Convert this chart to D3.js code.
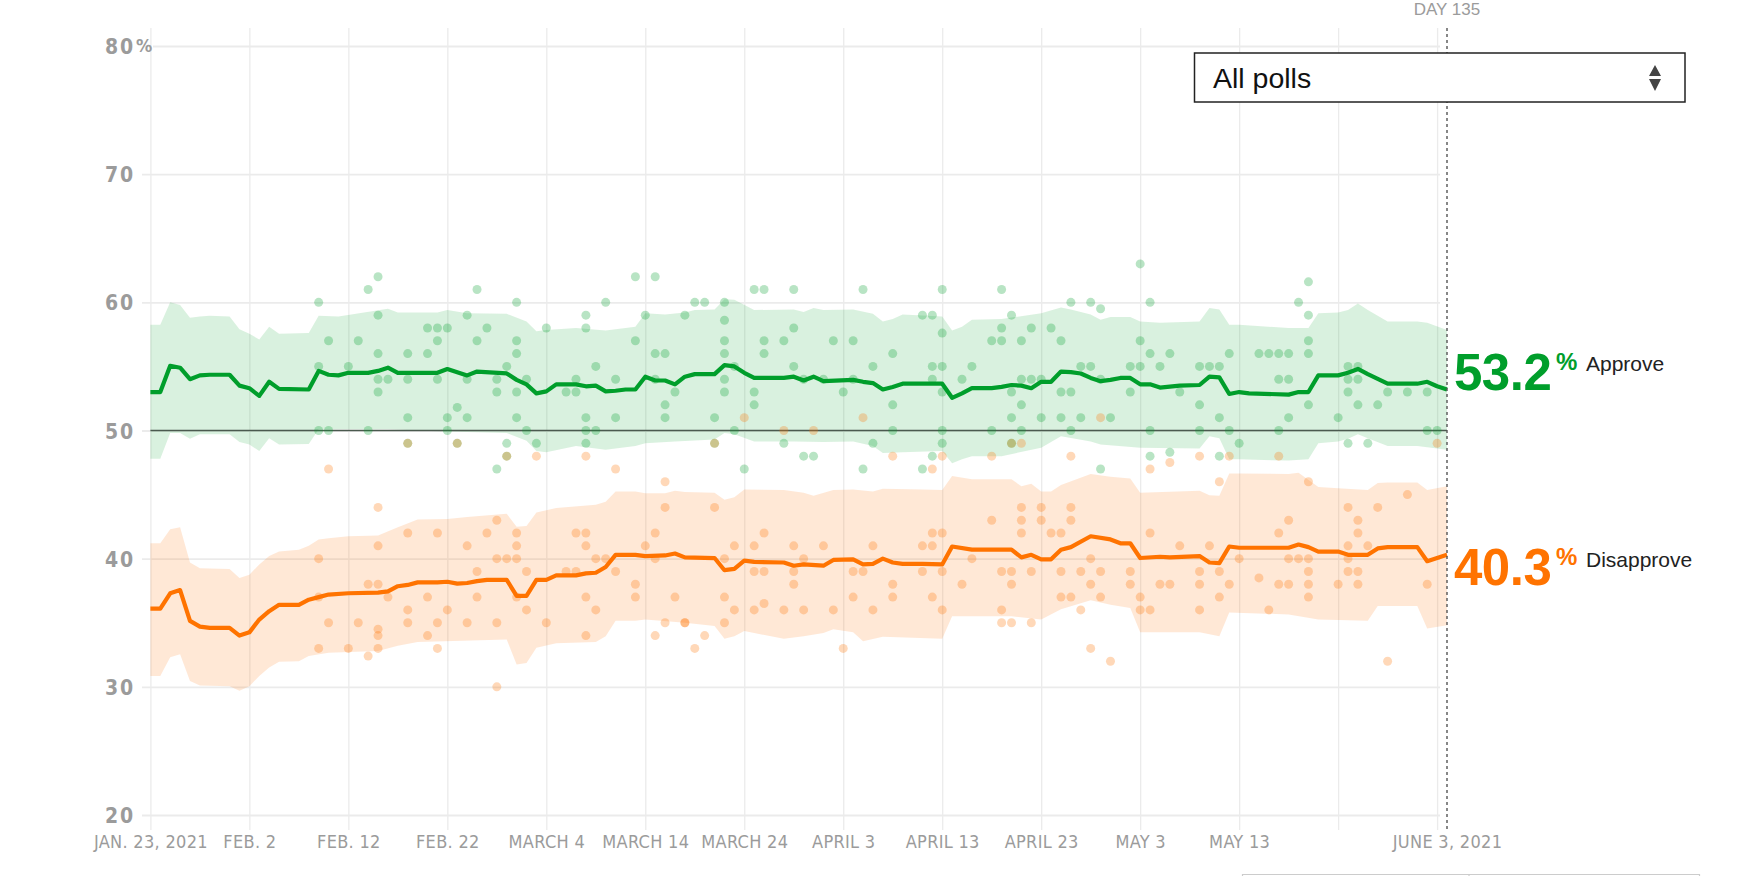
<!DOCTYPE html>
<html>
<head>
<meta charset="utf-8">
<script src="https://cdn.jsdelivr.net/npm/d3@7"></script>
<style>
  html, body { margin: 0; padding: 0; background: #fff; }
  svg { display: block; }
  .cond { font-family: "Liberation Sans Narrow", "Arial Narrow", "DejaVu Sans Condensed", sans-serif; }
  .sans { font-family: "Liberation Sans", Arial, Helvetica, sans-serif; }
</style>
</head>
<body>
<svg id="chart" width="1748" height="876"></svg>
<script>
// ---------------- DATA ----------------
// days are counted from Jan. 23, 2021
const startDate = "2021-01-23";
const endDay = 131; // June 3, 2021 (Day 135 of the presidency)

const approveDays = [0,1,2,3,4,5,6,8,9,10,11,12,13,16,17,18,19,20,22,23,24,25,29,30,31,32,33,36,37,38,39,40,41,43,44,45,46,47,48,49,50,51,52,53,54,55,57,58,59,60,61,64,65,66,67,68,71,72,73,74,75,76,80,81,82,83,85,86,87,88,89,90,91,92,93,94,95,96,97,98,99,100,101,102,104,106,107,108,109,110,111,115,116,117,118,120,121,122,123,125,128,129,130,131];
const approveVals = [53.0,53.0,55.05,54.9,54.0,54.3,54.35,54.35,53.5,53.3,52.7,53.8,53.25,53.2,54.65,54.35,54.3,54.5,54.5,54.65,54.9,54.5,54.5,54.8,54.55,54.3,54.6,54.45,53.95,53.6,52.9,53.05,53.6,53.6,53.45,53.5,53.05,53.1,53.2,53.2,54.2,53.9,53.9,53.6,54.2,54.4,54.4,55.1,55.0,54.5,54.1,54.1,54.2,53.9,54.2,53.85,53.95,53.8,53.7,53.2,53.4,53.65,53.65,52.55,52.9,53.3,53.3,53.4,53.55,53.5,53.3,53.8,53.8,54.6,54.55,54.45,54.1,53.85,53.95,54.1,54.1,53.6,53.6,53.35,53.5,53.55,54.2,54.15,52.85,53.0,52.9,52.8,53.0,53.0,54.3,54.3,54.5,54.8,54.4,53.65,53.65,53.8,53.45,53.2];

const disapproveDays = [0,1,2,3,4,5,6,8,9,10,11,12,13,15,16,17,18,20,23,24,25,26,27,29,30,31,32,33,34,36,37,38,39,40,41,43,44,45,46,47,49,50,52,53,54,57,58,59,60,61,64,65,66,68,69,71,72,73,74,75,76,78,80,81,83,87,88,89,90,91,92,93,95,97,98,99,100,102,103,106,107,108,109,110,115,116,117,118,120,121,123,124,125,128,129,131];
const disapproveVals = [36.1,36.1,37.3,37.55,35.15,34.7,34.6,34.6,34.0,34.25,35.25,35.9,36.4,36.4,36.8,37.0,37.2,37.3,37.35,37.45,37.85,37.95,38.15,38.15,38.2,38.05,38.1,38.25,38.35,38.35,37.1,37.1,38.35,38.35,38.7,38.7,38.85,38.9,39.35,40.3,40.3,40.2,40.25,40.4,40.1,40.05,39.1,39.2,39.85,39.75,39.7,39.45,39.55,39.45,39.9,39.95,39.55,39.6,40.0,39.7,39.6,39.6,39.55,40.95,40.7,40.7,40.1,40.3,39.95,39.95,40.7,40.9,41.75,41.5,41.2,41.2,40.05,40.15,40.1,40.2,39.7,39.65,40.95,40.85,40.85,41.1,40.9,40.55,40.55,40.3,40.3,40.8,40.9,40.9,39.8,40.3];

// uncertainty bands
const approveHiDays = [0,1,2,3,4,5,6,8,9,10,11,12,13,16,17,19,24,25,29,30,32,36,38,39,40,43,46,49,50,52,54,55,57,58,59,61,65,66,67,68,71,73,74,75,76,80,81,82,83,86,90,92,93,95,96,97,99,100,102,106,107,108,109,110,115,117,118,120,121,122,123,125,128,129,131];
const approveHiVals = [58.25,58.25,60.0,59.8,58.8,58.9,58.95,58.9,57.9,57.55,57.1,58.1,57.55,57.6,58.95,58.9,59.5,59.2,59.2,59.4,59.15,59.1,58.5,57.75,57.85,58.0,57.8,58.1,59.15,59.05,59.2,59.4,59.45,60.25,60.2,59.4,59.45,59.25,59.55,59.4,59.45,59.1,58.5,58.7,59.05,58.9,57.8,58.1,58.65,58.7,59.15,59.6,59.45,59.05,58.65,58.85,58.85,58.5,58.4,58.5,59.55,59.45,58.25,58.25,58.0,58.0,59.15,59.2,59.4,59.9,59.4,58.5,58.5,58.4,57.85];
const approveLoDays = [0,1,2,3,4,5,8,9,10,11,12,13,16,17,24,29,36,38,39,40,43,46,49,50,53,57,58,59,61,65,68,71,73,74,76,80,81,82,83,86,90,92,95,96,100,106,107,108,109,110,115,117,118,120,121,122,123,125,128,131];
const approveLoVals = [47.8,47.8,49.8,49.8,49.35,49.7,49.7,49.1,48.9,48.4,49.4,48.9,48.95,50.1,50.1,49.95,49.8,49.2,48.4,48.3,48.8,48.5,48.8,49.0,49.15,49.3,49.8,49.7,49.15,49.15,49.1,49.15,48.8,48.25,48.3,48.4,47.45,47.75,48.0,48.0,48.65,49.55,49.15,48.9,48.65,48.6,49.55,49.4,47.75,47.75,47.65,47.75,49.0,49.15,49.35,49.7,49.4,48.8,48.8,48.5];
const disapproveHiDays = [0,1,2,3,4,5,8,9,10,11,12,13,15,16,17,18,20,23,25,27,30,32,36,37,38,39,41,45,46,47,49,50,52,53,54,57,58,59,60,64,66,67,69,71,73,74,78,80,81,83,87,88,89,90,91,92,95,97,99,100,106,107,108,109,110,115,116,118,120,123,124,125,128,129,131];
const disapproveHiVals = [41.2,41.2,42.3,42.45,39.7,39.25,39.2,38.5,38.75,39.55,40.2,40.55,40.7,41.0,41.5,41.6,41.75,41.8,42.45,43.05,43.1,43.25,43.5,42.5,42.55,43.6,43.95,44.2,44.45,45.25,45.25,45.1,45.1,45.3,45.2,45.15,44.6,44.8,45.4,45.35,45.15,44.9,45.35,45.4,45.25,45.45,45.4,45.35,46.45,46.2,46.2,45.65,45.85,45.25,45.25,45.75,46.6,46.4,46.25,45.15,45.3,44.95,44.9,46.65,46.65,46.6,46.7,45.6,45.5,45.35,45.9,45.95,45.95,45.35,45.65];
const disapproveLoDays = [0,1,2,3,4,5,8,9,10,11,12,13,15,16,18,23,25,27,36,37,38,39,41,45,46,47,49,50,54,57,58,59,60,64,66,68,69,71,72,74,80,81,87,90,92,95,97,99,100,106,108,109,115,118,123,124,128,129,131];
const disapproveLoVals = [30.85,30.85,32.3,32.55,30.45,30.1,30.05,29.7,30.05,30.85,31.5,31.95,32.0,32.4,32.65,32.8,33.2,33.5,33.7,31.75,31.85,33.05,33.4,33.5,33.95,35.15,35.15,35.25,35.0,34.75,33.75,33.95,34.35,33.75,33.95,34.2,34.5,34.25,33.55,33.9,33.75,35.5,35.5,35.25,36.05,36.75,36.4,36.15,34.25,34.25,33.95,35.8,35.65,35.25,35.15,36.3,36.3,34.55,34.8];

// individual polls
const approvePollDays = [17,18,17,17,18,20,21,22,23,23,23,23,24,23,22,26,26,26,26,28,29,30,29,28,29,30,30,31,31,32,32,32,33,33,34,35,35,35,36,36,36,37,37,37,37,37,38,38,39,40,42,43,43,44,44,44,44,44,45,45,46,47,47,49,49,50,51,51,52,51,52,52,53,54,
  55,56,58,58,58,58,58,58,59,57,59,57,60,61,62,62,62,61,61,64,65,65,65,66,64,66,67,68,69,71,70,71,72,72,73,73,75,75,75,78,79,79,80,79,80,80,80,80,80,79,78,82,83,85,86,86,86,87,87,88,88,88,87,88,85,87,89,89,90,90,91,92,92,93,92,93,93,94,95,94,95,96,96,97,96,100,101,100,101,103,99,100,102,99,104,101,101,103,106,107,108,106,108,106,109,109,108,110,
  112,113,114,115,114,115,115,114,116,117,117,117,117,117,120,121,122,121,122,121,122,124,121,123,125,127,129,129,130];
const approvePollVals = [60,57,55,50,50,55,57,61,62,59,56,54,54,53,50,56,54,51,49,58,58,58,57,56,54,51,50,51.8,49,59,54,51,61,57,58,54,53,47,55,49,48,60,57,56,53,51,54,50,49,58,53,54,53,59,58,51,50,49,55,50,60,54,51,62,57,59,62,56,56,54,52,51,53,59,
  60,60,60,58.6,57,56,54,53,55,51,50,49,47,61,61,57,56,53,52,57,61,58,55,54,49,48,48,54,57,57,53,54,61,47,55,49,56,52,50,59,59,55,55,54,61,57.6,53,50,49,48,47,54,55,57,57,61,58,59,53,57,54,52,51,50,50,49,58,54,54,51,58,57,53,53,51,60,50,55,55,51,60,59.5,54,51,47,63,60,57,56,56,55,55,55,53,53,50,48,48.3,55,55,55,52,51,50,56,50,48,49,
  56,56,56,56,54,54,51,50,60,61.6,59,57,56,52,51,55,55,54,54,53,52,52,49,49,53,53,53,50,50];

const disapprovePollDays = [18,39,44,47,52,23,17,23,26,29,34,35,37,37,32,35,36,37,38,33,22,23,24,17,28,33,37,26,30,38,18,21,23,23,26,29,32,35,40,28,17,20,23,29,22,35,43,44,44,42,43,45,46,47,44,45,44,49,49,50,51,51,52,53,52,54,51,
  26,31,36,57,87,
  60,64,67,72,75,79,80,85,88,93,96,101,103,106,109,108,
  57,59,61,65,68,62,58,61,62,65,66,65,58,62,59,61,64,66,69,73,54,58,56,55,70,73,71,72,71,75,75,78,79,79,80,78,80,79,80,82,83,85,86,87,87,86,86,87,89,88,90,93,88,90,93,88,89,91,92,92,94,96,92,93,94,95,95,96,95,97,99,99,100,100,101,101,102,103,104,106,106,106,107,108,108,109,110,112,113,114,115,114,115,115,116,117,117,117,117,117,120,121,121,121,121,122,122,122,122,123,124,127,125,129,130,114];
const disapprovePollVals = [47,48,48,47,46,44,40,41,42,42,42,43,42,41,41,40,40,40,39,39,38,38,37,37,37,37,37,36,36,36,35,35,34.5,34,35,35,35,35,35,34,33,33,33,33,32.4,30,42,42,41,39,39,40,40,39,37,36,34,38,37,41,42,40,44,37,35,35,34,
  49,49,48,49,49,
  51,50,50,51,48,47,48,48,49,48,51,47,47.5,48,48,46,
  44,41,41,41,41,42,40,39,39,39,40,38,37,36.5,36,36,36,36,36,36,35,35,34,33,33,41,39,39,37,38,37,41,41,42,42,39,39,37,36,38,40,43,39,39,38,36,35,35,35,44,44,44,43,43,43,42,39,42,42,39,39,39,37,37,36,40,38,37,33,32,39,38,37,36,36,42,38,38,41,39,38,36,41,39,37,38,40,38.5,36,38,38,42,43,40,40,40,39,38,37,46,38,44,41,40,39,39,43,42,38,41,44,45,32,38,49,48];

// axis ticks
const gridDays = [0,10,20,30,40,50,60,70,80,90,100,110,120,130];
const labelDays = [0,10,20,30,40,50,60,70,80,90,100,110,131];
const xTickLabels = ["JAN. 23, 2021","FEB. 2","FEB. 12","FEB. 22","MARCH 4","MARCH 14","MARCH 24","APRIL 3","APRIL 13","APRIL 23","MAY 3","MAY 13","JUNE 3, 2021"];
const yTicks = [20,30,40,50,60,70,80];
const yTickLabels = ["20","30","40","50","60","70","80"];

const approveLatest = 53.2, disapproveLatest = 40.3;

// ---------------- DRAWING ----------------
const GREEN = "#009e2b", ORANGE = "#ff7300";
const svg = d3.select("#chart");
const t0 = new Date(startDate + "T00:00:00Z");
const dayDate = d => d3.utcDay.offset(t0, d);

const x = d3.scaleUtc().domain([t0, dayDate(endDay)]).range([150.4, 1447]);
const y = d3.scaleLinear().domain([20, 80]).range([815, 46]);

// vertical grid
const gx = svg.append("g").attr("transform", "translate(0,830)")
  .call(d3.axisTop(x).tickValues(gridDays.map(dayDate)).tickSize(802).tickFormat(""));
gx.select(".domain").remove();
gx.selectAll("line").attr("stroke", "#ebebeb").attr("stroke-width", 1.3);

// horizontal grid
const gy = svg.append("g").attr("transform", "translate(1440,0)")
  .call(d3.axisLeft(y).tickValues(yTicks).tickSize(1298).tickFormat(""));
gy.select(".domain").remove();
gy.selectAll("line").attr("stroke", "#ebebeb").attr("stroke-width", 1.8)
  .attr("x2", d => d === 80 ? -(1440 - 153) : -1298);

// y labels
const ly = svg.append("g").attr("transform", "translate(135,0)")
  .call(d3.axisLeft(y).tickValues(yTicks).tickSize(0).tickPadding(0).tickFormat((d, i) => yTickLabels[i]));
ly.select(".domain").remove();
ly.selectAll("text").attr("class", "cond").attr("font-size", 21).attr("font-weight", "bold")
  .attr("letter-spacing", 1.8).attr("fill", "#9b9b9b").attr("dy", "0.36em");
svg.append("text").attr("class", "cond").attr("x", 136).attr("y", y(80)).attr("dy", "0.36em")
  .attr("font-size", 18).attr("font-weight", "bold").attr("fill", "#9b9b9b").text("%");

// x labels
const lx = svg.append("g").attr("transform", "translate(0,848)")
  .call(d3.axisBottom(x).tickValues(labelDays.map(dayDate)).tickSize(0).tickPadding(0)
    .tickFormat((d, i) => xTickLabels[i]));
lx.select(".domain").remove();
lx.selectAll("text").attr("class", "cond").attr("font-size", 18).attr("letter-spacing", 0.3)
  .attr("fill", "#9b9b9b").attr("dy", 0);

// bands
function band(hiD, hiV, loD, loV) {
  const pts = hiD.map((d, i) => [x(dayDate(d)), y(hiV[i])])
    .concat(loD.map((d, i) => [x(dayDate(d)), y(loV[i])]).reverse());
  return d3.line()(pts) + "Z";
}
svg.append("path").attr("d", band(approveHiDays, approveHiVals, approveLoDays, approveLoVals))
  .attr("fill", GREEN).attr("fill-opacity", 0.15);
svg.append("path").attr("d", band(disapproveHiDays, disapproveHiVals, disapproveLoDays, disapproveLoVals))
  .attr("fill", ORANGE).attr("fill-opacity", 0.16);

// 50% line
svg.append("line").attr("x1", x(dayDate(0))).attr("x2", x(dayDate(endDay)))
  .attr("y1", y(50)).attr("y2", y(50)).attr("stroke", "#4b5a4f").attr("stroke-width", 1.6);

// poll dots
svg.append("g").selectAll("circle").data(approvePollDays).join("circle")
  .attr("cx", d => x(dayDate(d))).attr("cy", (d, i) => y(approvePollVals[i])).attr("r", 4.5)
  .attr("fill", GREEN).attr("fill-opacity", 0.28);
svg.append("g").selectAll("circle").data(disapprovePollDays).join("circle")
  .attr("cx", d => x(dayDate(d))).attr("cy", (d, i) => y(disapprovePollVals[i])).attr("r", 4.5)
  .attr("fill", ORANGE).attr("fill-opacity", 0.28);

// trend lines
const line = d3.line();
svg.append("path").attr("d", line(approveDays.map((d, i) => [x(dayDate(d)), y(approveVals[i])])))
  .attr("fill", "none").attr("stroke", GREEN).attr("stroke-width", 4.2).attr("stroke-linejoin", "round");
svg.append("path").attr("d", line(disapproveDays.map((d, i) => [x(dayDate(d)), y(disapproveVals[i])])))
  .attr("fill", "none").attr("stroke", ORANGE).attr("stroke-width", 4.2).attr("stroke-linejoin", "round");

// "today" marker
const xe = x(dayDate(endDay));
svg.append("line").attr("x1", xe).attr("x2", xe).attr("y1", 28).attr("y2", 829)
  .attr("stroke", "#555").attr("stroke-width", 1.4).attr("stroke-dasharray", "3,3");
svg.append("text").attr("class", "sans").attr("x", xe).attr("y", 14.5).attr("text-anchor", "middle")
  .attr("font-size", 17).attr("fill", "#9b9b9b").text("DAY 135");

// dropdown
svg.append("rect").attr("x", 1194.5).attr("y", 53).attr("width", 490.5).attr("height", 49)
  .attr("fill", "#fff").attr("stroke", "#222").attr("stroke-width", 1.5);
svg.append("text").attr("class", "sans").attr("x", 1213).attr("y", 87.5).attr("font-size", 28.5)
  .attr("fill", "#111").text("All polls");
svg.append("path").attr("d", "M1649,76L1661,76L1655,65Z M1649,79L1661,79L1655,91Z").attr("fill", "#444");

// end labels
function endLabel(v, color, name, baseline, nameBaseline) {
  const g = svg.append("g");
  g.append("text").attr("class", "sans").attr("x", 1454).attr("y", baseline).attr("font-size", 51)
    .attr("font-weight", "bold").attr("letter-spacing", -0.5).attr("fill", color).text(v.toFixed(1));
  g.append("text").attr("class", "sans").attr("x", 1556).attr("y", baseline - 20).attr("font-size", 24)
    .attr("font-weight", "bold").attr("fill", color).text("%");
  g.append("text").attr("class", "sans").attr("x", 1586).attr("y", nameBaseline).attr("font-size", 21)
    .attr("fill", "#222").text(name);
}
endLabel(approveLatest, GREEN, "Approve", y(approveLatest) + 0.5, y(approveLatest) - 18);
endLabel(disapproveLatest, ORANGE, "Disapprove", y(disapproveLatest) + 30, y(disapproveLatest) + 12);

// box cut off at the bottom
svg.append("path").attr("d", "M1242.5,880V874.5H1699.5V880 M1469,874.5V880")
  .attr("fill", "none").attr("stroke", "#ccc").attr("stroke-width", 1.2);
</script>
</body>
</html>
